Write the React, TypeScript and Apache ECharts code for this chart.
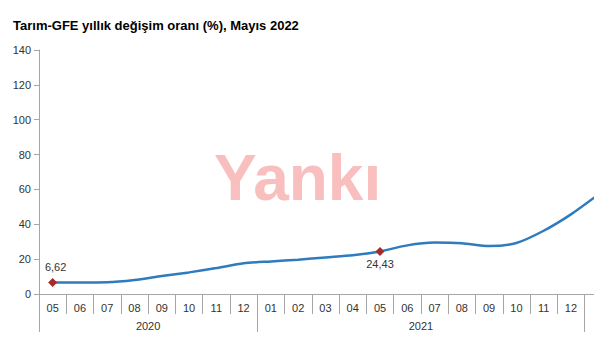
import React, { useEffect, useRef } from "react";
import * as echarts from "echarts";

const titleText = "Tarım-GFE yıllık değişim oranı (%), Mayıs 2022";
const watermark = "Yankı";
const months = [
  "05", "06", "07", "08", "09", "10", "11", "12",
  "01", "02", "03", "04", "05", "06", "07", "08", "09", "10", "11", "12",
  "01", "02", "03", "04", "05",
];
const years = ["2020", "2021", "2022"];
const yearSizes = [8, 12, 5];
const values: (number | null)[] = [
  6.62, 6.6, 6.7, 8.0, 10.3, 12.4, 14.9, 17.6,
  18.7, 19.7, 21.0, 22.2, 24.43, 27.9, 29.5, 29.1, 27.5, 29.3, 36.3, 45.7,
  57.0, null, null, null, null,
];
const labelledIdx = [0, 12];
const yTicks = [0, 20, 40, 60, 80, 100, 120, 140];
// months / years whose labels fall inside the visible (cropped) picture
const visibleMonthCount = 20;
const visibleYearCount = 2;

const FONT = "'Liberation Sans', Arial, sans-serif";

export default function App() {
  const ref = useRef<HTMLDivElement>(null);
  useEffect(() => {
    if (!ref.current) return;
    const chart = echarts.init(ref.current, null, { renderer: "svg" });

    const n = months.length;
    const yearData: string[] = new Array(2 * n + 1).fill("");
    const yearTicks: number[] = [0];
    let start = 0;
    years.forEach((y, i) => {
      const end = start + yearSizes[i];
      yearData[start + end] = i < visibleYearCount ? y : "";
      yearTicks.push(2 * end);
      start = end;
    });

    const data = values.map((v, i) =>
      labelledIdx.includes(i)
        ? {
            value: v,
            symbol: "diamond",
            symbolSize: 9,
            itemStyle: { color: "#a52a2a" },
            label: {
              show: true,
              position: i === 0 ? "top" : "bottom",
              distance: i === 0 ? 5 : 3,
              offset: i === 0 ? [3, 0] : [0, 0],
              color: "#333",
              fontSize: 11,
              fontFamily: FONT,
              formatter: (p: any) => String(p.value).replace(".", ","),
            },
          }
        : { value: v, symbol: "none" }
    );

    const gray = "#a6a6a6";
    chart.setOption({
      animation: false,
      textStyle: { fontFamily: FONT },
      title: [
        {
          text: titleText,
          left: 8,
          top: 14,
          textStyle: { fontSize: 13, fontWeight: "bold", color: "#000", fontFamily: FONT },
        },
        {
          text: watermark,
          left: 209,
          top: 141,
          z: 0,
          textStyle: { fontSize: 64, fontWeight: "bold", color: "#f9bfbf", fontFamily: FONT },
        },
      ],
      grid: { left: 39, top: 50, bottom: 58, right: 0, containLabel: false },
      xAxis: [
        {
          type: "category",
          data: months,
          boundaryGap: true,
          axisLine: { show: true, lineStyle: { color: gray } },
          axisTick: { show: true, alignWithLabel: false, length: 20, lineStyle: { color: gray } },
          axisLabel: {
            interval: 0,
            margin: 8,
            fontSize: 11,
            color: "#333",
            formatter: (v: string, i: number) => (i < visibleMonthCount ? v : ""),
          },
        },
        {
          type: "category",
          data: yearData,
          boundaryGap: false,
          position: "bottom",
          axisLine: { show: false },
          axisTick: {
            show: true,
            length: 38,
            interval: (i: number) => yearTicks.includes(i),
            lineStyle: { color: gray },
          },
          axisLabel: { interval: 0, margin: 26, fontSize: 11, color: "#333" },
        },
      ],
      yAxis: {
        type: "value",
        min: yTicks[0],
        max: yTicks[yTicks.length - 1],
        interval: 20,
        splitLine: { show: false },
        axisLine: { show: true, lineStyle: { color: gray } },
        axisTick: { show: true, length: 5, lineStyle: { color: gray } },
        axisLabel: { margin: 8, fontSize: 11, color: "#333" },
      },
      series: [
        {
          type: "line",
          xAxisIndex: 0,
          data,
          smooth: 0.25,
          connectNulls: false,
          showSymbol: true,
          lineStyle: { color: "#2e7bbd", width: 2.5 },
          itemStyle: { color: "#2e7bbd" },
          z: 3,
        },
      ],
    });
    return () => chart.dispose();
  }, []);
  return (
    <div
      style={{ position: "absolute", left: 0, top: 0, width: 594, height: 352, overflow: "hidden", background: "#fff" }}
    >
      <div ref={ref} style={{ width: 724, height: 352 }} />
    </div>
  );
}
